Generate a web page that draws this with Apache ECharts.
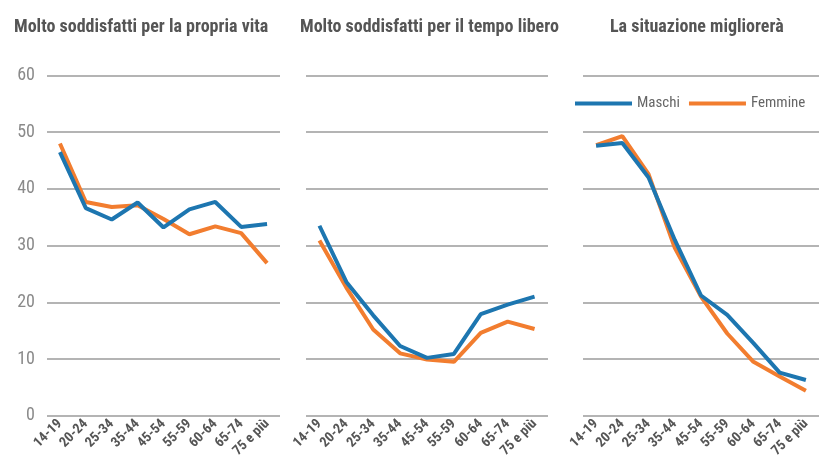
<!DOCTYPE html>
<html lang="it">
<head>
  <meta charset="UTF-8">
  <title>Soddisfazione per età</title>
  <script src="https://cdn.jsdelivr.net/npm/echarts@6/dist/echarts.min.js"></script>
  <style>
    * { margin: 0; padding: 0; }
    body { background: #fff; }
  </style>
</head>
<body>
  <div id="chart" style="width: 819px; height: 463px;"></div>
<script>
  // categorie di età
  var ages = ['14-19', '20-24', '25-34', '35-44', '45-54', '55-59', '60-64', '65-74', '75 e più'];

  // titoli dei pannelli
  var titles = ['Molto soddisfatti per la propria vita', 'Molto soddisfatti per il tempo libero', 'La situazione migliorerà'];

  // valori
  var vitaMaschi = [46.5, 36.6, 34.6, 37.6, 33.2, 36.4, 37.7, 33.3, 33.8];
  var vitaFemmine = [48.0, 37.7, 36.8, 37.1, 34.7, 32.0, 33.4, 32.2, 26.9];
  var liberoMaschi = [33.5, 23.6, 17.7, 12.3, 10.2, 10.9, 17.9, 19.6, 21.0];
  var liberoFemmine = [30.9, 22.6, 15.2, 11.0, 9.9, 9.5, 14.6, 16.6, 15.3];
  var futuroMaschi = [47.6, 48.1, 42.0, 31.0, 21.2, 17.8, 12.8, 7.6, 6.3];
  var futuroFemmine = [47.7, 49.3, 42.6, 29.6, 21.0, 14.5, 9.5, 6.9, 4.4];

  var yTicks = [0, 10, 20, 30, 40, 50, 60];

  var blu = '#1d76b0';
  var arancio = '#f27d2f';
  var font = "'Roboto Condensed', 'DejaVu Sans Condensed', Roboto, sans-serif";

  var myChart = echarts.init(document.getElementById('chart'));

  var lefts = [47, 306, 583];
  var widths = [233, 242, 242];

  var grids = lefts.map((l, i) => ({ left: l, width: widths[i], top: 75.5, bottom: 47.3 }));

  var xAxes = lefts.map((l, i) => ({
    type: 'category',
    gridIndex: i,
    data: ages,
    axisLine: { show: false },
    axisTick: { show: false },
    axisLabel: {
      interval: 0,
      rotate: 45,
      margin: 6,
      color: '#555',
      fontFamily: font,
      fontWeight: 'bold',
      fontSize: 14
    }
  }));

  var yAxes = lefts.map((l, i) => ({
    type: 'value',
    gridIndex: i,
    min: yTicks[0],
    max: yTicks[yTicks.length - 1],
    interval: 10,
    axisLine: { show: false },
    axisTick: { show: false },
    axisLabel: {
      show: i === 0,
      margin: 12,
      color: '#8a8a8a',
      fontFamily: font,
      fontSize: 18
    },
    splitLine: { lineStyle: { color: '#b4b4b4', width: 2 } }
  }));

  function linea(name, data, color, idx) {
    return {
      name: name,
      type: 'line',
      xAxisIndex: idx,
      yAxisIndex: idx,
      data: data,
      symbol: 'none',
      lineStyle: { color: color, width: 4 },
      itemStyle: { color: color },
      z: name === 'Maschi' ? 3 : 2
    };
  }

  var option = {
    animation: false,
    title: titles.map((t, i) => ({
      text: t,
      left: [9, 295, 605][i],
      top: 13,
      textStyle: { color: '#555', fontFamily: font, fontWeight: 'bold', fontSize: 18 }
    })),
    legend: {
      orient: 'horizontal',
      left: 575,
      top: 96,
      padding: 0,
      width: 300,
      itemWidth: 57,
      itemHeight: 4,
      itemGap: 9,
      icon: 'rect',
      data: ['Maschi', 'Femmine'],
      textStyle: { color: '#666', fontFamily: font, fontSize: 15 }
    },
    grid: grids,
    xAxis: xAxes,
    yAxis: yAxes,
    series: [
      linea('Femmine', vitaFemmine, arancio, 0),
      linea('Maschi', vitaMaschi, blu, 0),
      linea('Femmine', liberoFemmine, arancio, 1),
      linea('Maschi', liberoMaschi, blu, 1),
      linea('Femmine', futuroFemmine, arancio, 2),
      linea('Maschi', futuroMaschi, blu, 2)
    ]
  };

  myChart.setOption(option);
</script>
</body>
</html>
